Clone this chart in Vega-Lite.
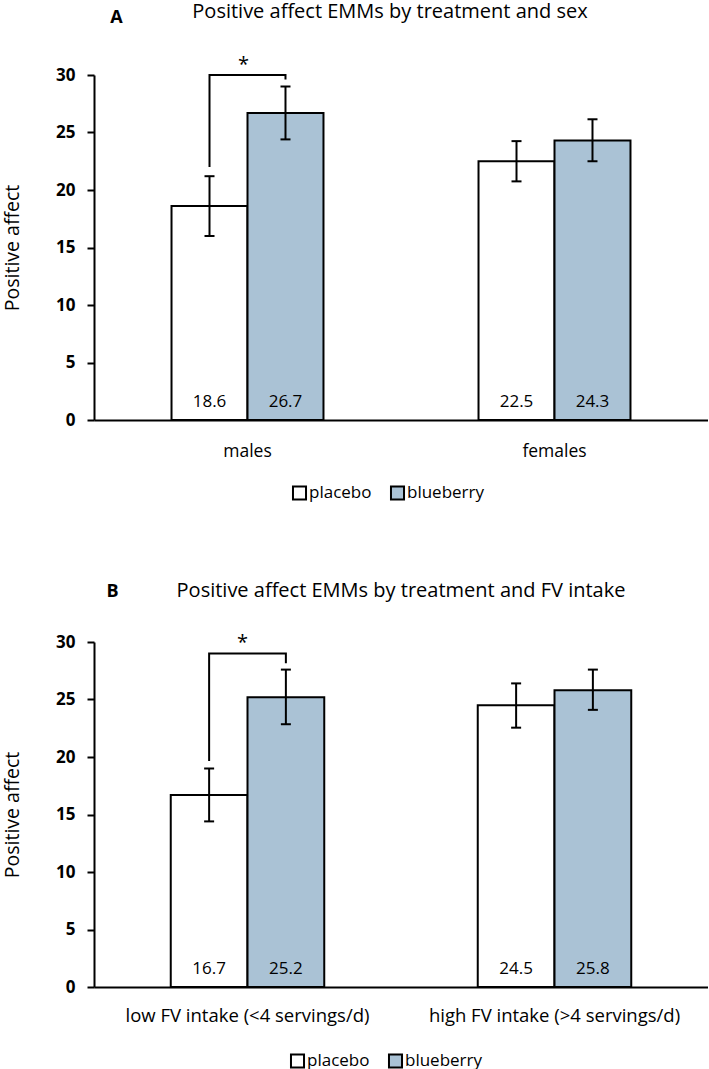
{
  "$schema": "https://vega.github.io/schema/vega-lite/v6.json",
  "padding": {"left": 2, "top": 1, "right": 0, "bottom": 0},
  "spacing": 77,
  "config": {"font": "Open Sans", "view": {"stroke": null}},
  "datasets": {
    "barsA": [
      {"group": "males", "treatment": "placebo", "mean": 18.6, "lo": 16.0, "hi": 21.2},
      {"group": "males", "treatment": "blueberry", "mean": 26.7, "lo": 24.4, "hi": 29.0},
      {"group": "females", "treatment": "placebo", "mean": 22.5, "lo": 20.75, "hi": 24.25},
      {"group": "females", "treatment": "blueberry", "mean": 24.3, "lo": 22.5, "hi": 26.15}
    ],
    "barsB": [
      {"group": "low FV intake (<4 servings/d)", "treatment": "placebo", "mean": 16.7, "lo": 14.4, "hi": 19.0},
      {"group": "low FV intake (<4 servings/d)", "treatment": "blueberry", "mean": 25.2, "lo": 22.85, "hi": 27.6},
      {"group": "high FV intake (>4 servings/d)", "treatment": "placebo", "mean": 24.5, "lo": 22.55, "hi": 26.4},
      {"group": "high FV intake (>4 servings/d)", "treatment": "blueberry", "mean": 25.8, "lo": 24.1, "hi": 27.6}
    ],
    "bracketA": [
      {"group": "males", "treatment": "placebo", "y": 22.0, "order": 1},
      {"group": "males", "treatment": "placebo", "y": 30.0, "order": 2},
      {"group": "males", "treatment": "blueberry", "y": 30.0, "order": 3},
      {"group": "males", "treatment": "blueberry", "y": 29.6, "order": 4}
    ],
    "bracketB": [
      {"group": "low FV intake (<4 servings/d)", "treatment": "placebo", "y": 19.65, "order": 1},
      {"group": "low FV intake (<4 servings/d)", "treatment": "placebo", "y": 29.0, "order": 2},
      {"group": "low FV intake (<4 servings/d)", "treatment": "blueberry", "y": 29.0, "order": 3},
      {"group": "low FV intake (<4 servings/d)", "treatment": "blueberry", "y": 28.15, "order": 4}
    ],
    "starA": [{"group": "males", "y": 30.35, "label": "*"}],
    "starB": [{"group": "low FV intake (<4 servings/d)", "y": 29.4, "label": "*"}],
    "letterA": [{"group": "males", "y": 34.55, "label": "A"}],
    "letterB": [{"group": "low FV intake (<4 servings/d)", "y": 33.9, "label": "B"}]
  },
  "resolve": {"scale": {"x": "independent", "xOffset": "independent", "y": "independent", "color": "independent"}, "legend": {"color": "independent"}},
  "vconcat": [
    {
      "width": 614,
      "height": 345,
      "title": {"text": "Positive affect EMMs by treatment and sex", "dx": -11, "offset": -29, "baseline": "alphabetic", "fontSize": 20, "fontWeight": "normal", "font": "Open Sans", "color": "black", "anchor": "middle"},
      "layer": [
        {
          "data": {"name": "barsA"},
          "mark": {"type": "bar", "stroke": "black", "strokeWidth": 2},
          "encoding": {
            "x": {"field": "group", "type": "nominal", "scale": {"domain": ["males", "females"], "paddingInner": 0.505, "paddingOuter": 0.2525},
                  "axis": {"title": null, "labelAngle": 0, "ticks": false, "domainColor": "black", "domainWidth": 2, "labelFontSize": 17.5, "labelFont": "Open Sans", "labelColor": "black", "labelPadding": 22}},
            "xOffset": {"field": "treatment", "type": "nominal", "scale": {"domain": ["placebo", "blueberry"], "paddingInner": 0, "paddingOuter": 0}},
            "y": {"field": "mean", "type": "quantitative", "scale": {"domain": [0, 30], "nice": false},
                  "axis": {"values": [0, 5, 10, 15, 20, 25, 30], "grid": false, "title": "Positive affect", "titleFontSize": 19.5, "titleFontWeight": "normal", "titleFont": "Open Sans", "titleColor": "black", "titlePadding": 33, "labelFontSize": 17, "labelFontWeight": "bold", "labelFont": "Open Sans", "labelColor": "black", "labelPadding": 12, "tickSize": 7, "tickWidth": 2, "tickColor": "black", "domainColor": "black", "domainWidth": 2}},
            "color": {"field": "treatment", "type": "nominal", "scale": {"domain": ["placebo", "blueberry"], "range": ["#ffffff", "#aac2d5"]},
                      "legend": {"orient": "none", "legendX": 197, "legendY": 409, "direction": "horizontal", "title": null, "symbolType": "square", "symbolSize": 170, "symbolStrokeColor": "black", "symbolStrokeWidth": 2, "labelFontSize": 17, "labelFont": "Open Sans", "labelColor": "black", "columnPadding": 14, "labelOffset": 1, "padding": 0}}
          }
        },
        {
          "data": {"name": "barsA"},
          "mark": {"type": "rule", "strokeWidth": 2, "color": "black"},
          "encoding": {
            "x": {"field": "group", "type": "nominal"},
            "xOffset": {"field": "treatment", "type": "nominal"},
            "y": {"field": "lo", "type": "quantitative"},
            "y2": {"field": "hi"}
          }
        },
        {
          "data": {"name": "barsA"},
          "transform": [{"fold": ["lo", "hi"], "as": ["end", "v"]}],
          "mark": {"type": "tick", "size": 10, "thickness": 2, "color": "black", "opacity": 1},
          "encoding": {
            "x": {"field": "group", "type": "nominal"},
            "xOffset": {"field": "treatment", "type": "nominal"},
            "y": {"field": "v", "type": "quantitative"}
          }
        },
        {
          "data": {"name": "barsA"},
          "mark": {"type": "text", "fontSize": 17, "font": "Open Sans", "color": "black", "baseline": "alphabetic"},
          "encoding": {
            "x": {"field": "group", "type": "nominal"},
            "xOffset": {"field": "treatment", "type": "nominal"},
            "y": {"datum": 1.1},
            "text": {"field": "mean", "type": "quantitative", "format": ".1f"}
          }
        },
        {
          "data": {"name": "bracketA"},
          "mark": {"type": "line", "strokeWidth": 2, "color": "black", "clip": false},
          "encoding": {
            "x": {"field": "group", "type": "nominal"},
            "xOffset": {"field": "treatment", "type": "nominal"},
            "y": {"field": "y", "type": "quantitative"},
            "order": {"field": "order", "type": "quantitative"}
          }
        },
        {
          "data": {"name": "starA"},
          "mark": {"type": "text", "fontSize": 20, "font": "Open Sans", "color": "black", "baseline": "alphabetic", "dx": -4},
          "encoding": {
            "x": {"field": "group", "type": "nominal"},
            "y": {"field": "y", "type": "quantitative"},
            "text": {"field": "label"}
          }
        },
        {
          "data": {"name": "letterA"},
          "mark": {"type": "text", "fontSize": 18, "fontWeight": "bold", "font": "Open Sans", "color": "black", "baseline": "alphabetic", "dx": -131},
          "encoding": {
            "x": {"field": "group", "type": "nominal"},
            "y": {"field": "y", "type": "quantitative"},
            "text": {"field": "label"}
          }
        }
      ]
    },
    {
      "width": 614,
      "height": 345,
      "title": {"text": "Positive affect EMMs by treatment and FV intake", "dx": 0, "offset": -34, "baseline": "alphabetic", "fontSize": 20, "fontWeight": "normal", "font": "Open Sans", "color": "black", "anchor": "middle"},
      "layer": [
        {
          "data": {"name": "barsB"},
          "mark": {"type": "bar", "stroke": "black", "strokeWidth": 2},
          "encoding": {
            "x": {"field": "group", "type": "nominal", "scale": {"domain": ["low FV intake (<4 servings/d)", "high FV intake (>4 servings/d)"], "paddingInner": 0.5, "paddingOuter": 0.25},
                  "axis": {"title": null, "labelAngle": 0, "ticks": false, "domainColor": "black", "domainWidth": 2, "labelFontSize": 18.5, "labelFont": "Open Sans", "labelColor": "black", "labelPadding": 19, "labelLimit": 400}},
            "xOffset": {"field": "treatment", "type": "nominal", "scale": {"domain": ["placebo", "blueberry"], "paddingInner": 0, "paddingOuter": 0}},
            "y": {"field": "mean", "type": "quantitative", "scale": {"domain": [0, 30], "nice": false},
                  "axis": {"values": [0, 5, 10, 15, 20, 25, 30], "grid": false, "title": "Positive affect", "titleFontSize": 19.5, "titleFontWeight": "normal", "titleFont": "Open Sans", "titleColor": "black", "titlePadding": 33, "labelFontSize": 17, "labelFontWeight": "bold", "labelFont": "Open Sans", "labelColor": "black", "labelPadding": 12, "tickSize": 7, "tickWidth": 2, "tickColor": "black", "domainColor": "black", "domainWidth": 2}},
            "color": {"field": "treatment", "type": "nominal", "scale": {"domain": ["placebo", "blueberry"], "range": ["#ffffff", "#aac2d5"]},
                      "legend": {"orient": "none", "legendX": 195, "legendY": 410, "direction": "horizontal", "title": null, "symbolType": "square", "symbolSize": 170, "symbolStrokeColor": "black", "symbolStrokeWidth": 2, "labelFontSize": 17, "labelFont": "Open Sans", "labelColor": "black", "columnPadding": 14, "labelOffset": 1, "padding": 0}}
          }
        },
        {
          "data": {"name": "barsB"},
          "mark": {"type": "rule", "strokeWidth": 2, "color": "black"},
          "encoding": {
            "x": {"field": "group", "type": "nominal"},
            "xOffset": {"field": "treatment", "type": "nominal"},
            "y": {"field": "lo", "type": "quantitative"},
            "y2": {"field": "hi"}
          }
        },
        {
          "data": {"name": "barsB"},
          "transform": [{"fold": ["lo", "hi"], "as": ["end", "v"]}],
          "mark": {"type": "tick", "size": 10, "thickness": 2, "color": "black", "opacity": 1},
          "encoding": {
            "x": {"field": "group", "type": "nominal"},
            "xOffset": {"field": "treatment", "type": "nominal"},
            "y": {"field": "v", "type": "quantitative"}
          }
        },
        {
          "data": {"name": "barsB"},
          "mark": {"type": "text", "fontSize": 17, "font": "Open Sans", "color": "black", "baseline": "alphabetic"},
          "encoding": {
            "x": {"field": "group", "type": "nominal"},
            "xOffset": {"field": "treatment", "type": "nominal"},
            "y": {"datum": 1.1},
            "text": {"field": "mean", "type": "quantitative", "format": ".1f"}
          }
        },
        {
          "data": {"name": "bracketB"},
          "mark": {"type": "line", "strokeWidth": 2, "color": "black", "clip": false},
          "encoding": {
            "x": {"field": "group", "type": "nominal"},
            "xOffset": {"field": "treatment", "type": "nominal"},
            "y": {"field": "y", "type": "quantitative"},
            "order": {"field": "order", "type": "quantitative"}
          }
        },
        {
          "data": {"name": "starB"},
          "mark": {"type": "text", "fontSize": 20, "font": "Open Sans", "color": "black", "baseline": "alphabetic", "dx": -5},
          "encoding": {
            "x": {"field": "group", "type": "nominal"},
            "y": {"field": "y", "type": "quantitative"},
            "text": {"field": "label"}
          }
        },
        {
          "data": {"name": "letterB"},
          "mark": {"type": "text", "fontSize": 18, "fontWeight": "bold", "font": "Open Sans", "color": "black", "baseline": "alphabetic", "dx": -135},
          "encoding": {
            "x": {"field": "group", "type": "nominal"},
            "y": {"field": "y", "type": "quantitative"},
            "text": {"field": "label"}
          }
        }
      ]
    }
  ]
}
